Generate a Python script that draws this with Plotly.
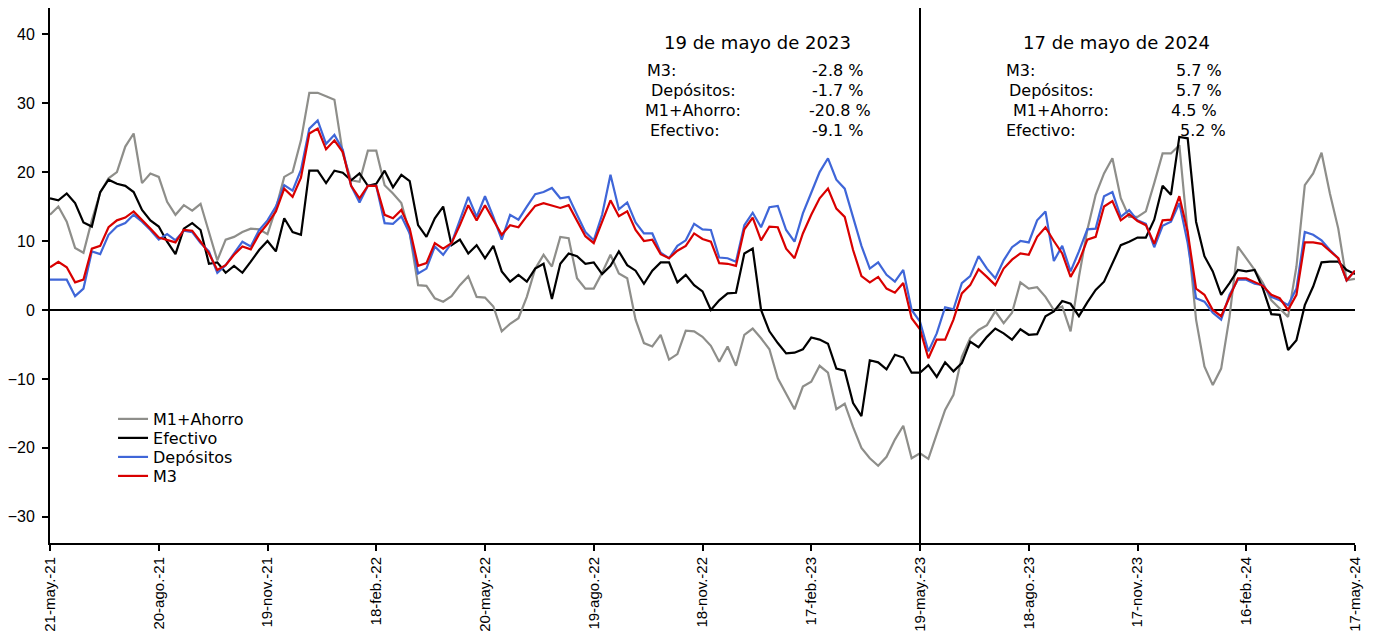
import pandas as pd
import plotly.graph_objects as go

# ---------------- data (weekly, % yoy) ----------------
start_date = "2021-05-21"
n_weeks = 157

m1_ahorro = [13.8, 15.0, 12.8, 9.0, 8.3, 13.0, 17.0, 19.1, 20.0, 23.7, 25.6, 18.4, 19.8, 19.3, 15.7, 13.8,
             15.2, 14.4, 15.4, 11.3, 7.2, 10.2, 10.6, 11.3, 11.8, 11.7, 11.0, 14.7, 19.3, 20.0, 24.6, 31.5,
             31.5, 31.0, 30.5, 22.7, 18.8, 18.6, 23.1, 23.1, 18.1, 16.9, 15.5, 11.1, 3.6, 3.5, 1.7, 1.2,
             2.0, 3.6, 4.9, 1.9, 1.8, 0.5, -3.1, -2.0, -1.2, 1.9, 6.0, 8.0, 6.3, 10.6, 10.4, 4.6,
             3.1, 3.1, 5.4, 8.0, 5.3, 4.6, -1.4, -4.8, -5.3, -3.6, -7.2, -6.4, -3.0, -3.1, -3.9, -5.2,
             -7.5, -5.3, -8.1, -3.6, -2.7, -4.1, -5.7, -9.9, -12.1, -14.4, -11.1, -10.4, -8.1, -9.1, -14.4, -13.6,
             -17.0, -20.0, -21.5, -22.6, -21.3, -18.8, -16.8, -21.5, -20.8, -21.6, -18.0, -14.5, -12.3, -6.8, -4.1, -2.9,
             -2.2, -0.2, -1.9, -0.4, 4.0, 3.1, 3.3, 1.9, 0.0, 0.5, -3.1, 4.8, 11.6, 16.7, 19.8, 22.0,
             16.2, 13.5, 13.5, 14.3, 18.4, 22.7, 22.7, 23.9, 11.1, -1.4, -8.2, -10.9, -8.5, -1.0, 9.2, 7.5,
             5.8, 3.9, 1.4, 0.2, -1.0, 6.3, 18.1, 19.8, 22.8, 16.9, 11.8, 4.3, 4.5]

efectivo = [16.2, 15.9, 16.9, 15.5, 12.7, 12.1, 17.1, 18.9, 18.3, 18.0, 17.1, 14.5, 13.0, 12.1, 9.9, 8.1,
            11.8, 12.6, 11.6, 6.7, 6.9, 5.4, 6.4, 5.4, 7.0, 8.7, 10.0, 8.5, 13.3, 11.3, 10.9, 20.2,
            20.2, 18.4, 20.2, 19.9, 18.8, 19.8, 18.0, 18.3, 20.2, 17.8, 19.6, 18.7, 12.3, 10.6, 13.3, 15.0,
            9.4, 10.2, 8.2, 9.4, 7.5, 9.3, 5.6, 4.1, 5.1, 4.1, 6.0, 6.7, 1.6, 6.7, 8.2, 7.8,
            6.7, 6.9, 5.2, 6.4, 8.5, 6.5, 5.7, 3.8, 5.7, 6.9, 6.9, 4.0, 5.1, 3.6, 2.7, 0.0,
            1.4, 2.4, 2.5, 8.2, 8.9, 0.0, -3.1, -4.8, -6.3, -6.2, -5.7, -4.0, -4.3, -4.9, -8.5, -8.8,
            -13.5, -15.4, -7.3, -7.6, -8.6, -6.5, -6.9, -9.1, -9.1, -8.0, -9.7, -7.6, -8.9, -7.7, -4.6, -5.4,
            -3.9, -2.7, -3.4, -4.3, -2.8, -3.6, -3.5, -0.9, -0.2, 1.3, 0.9, -0.9, 1.1, 2.9, 4.1, 6.8,
            9.4, 9.9, 10.5, 10.5, 13.1, 18.0, 16.7, 25.1, 24.9, 12.8, 7.8, 5.6, 2.2, 3.9, 5.8, 5.6,
            5.8, 3.1, -0.6, -0.7, -5.8, -4.4, 0.7, 3.4, 6.9, 7.0, 7.0, 5.8, 5.2]

depositos = [4.4, 4.4, 4.4, 2.0, 3.1, 8.5, 8.1, 10.9, 12.1, 12.6, 13.8, 12.8, 11.6, 10.2, 11.0, 10.1,
             11.5, 11.3, 9.7, 8.5, 5.4, 6.5, 8.2, 9.9, 9.2, 11.6, 13.0, 15.0, 18.1, 17.3, 20.3, 26.3,
             27.5, 24.1, 25.4, 23.2, 18.0, 15.6, 18.0, 18.0, 12.6, 12.5, 13.6, 11.1, 5.3, 6.0, 9.2, 8.0,
             9.7, 13.0, 16.4, 13.5, 16.5, 13.5, 10.2, 13.8, 13.1, 15.0, 16.8, 17.1, 17.7, 16.2, 16.4, 13.8,
             11.3, 10.1, 13.8, 19.6, 14.6, 15.6, 12.7, 11.1, 11.1, 8.3, 7.5, 9.3, 10.1, 12.5, 11.7, 11.6,
             7.6, 7.5, 7.0, 12.3, 14.1, 12.0, 14.9, 15.1, 11.6, 9.9, 14.0, 17.0, 20.0, 22.0, 18.9, 17.6,
             13.5, 9.3, 6.0, 6.9, 5.1, 4.1, 5.8, 0.0, -1.7, -6.0, -3.4, 0.4, 0.1, 3.9, 4.9, 7.8,
             6.0, 4.6, 7.2, 9.1, 10.0, 9.8, 13.0, 14.3, 7.1, 9.3, 5.6, 8.5, 11.7, 11.8, 16.5, 17.1,
             13.5, 14.5, 13.0, 12.5, 9.1, 12.2, 12.8, 15.5, 9.7, 1.7, 1.2, -0.4, -1.4, 2.2, 4.4, 4.4,
             3.8, 3.6, 1.9, 1.4, 0.7, 3.1, 11.3, 10.9, 10.1, 8.7, 7.5, 4.3, 5.7]

m3 = [6.2, 7.0, 6.2, 4.0, 4.4, 8.9, 9.3, 12.0, 13.0, 13.4, 14.3, 13.1, 11.8, 10.5, 10.2, 9.8,
      11.6, 11.5, 9.9, 8.2, 5.8, 6.5, 8.0, 9.2, 8.8, 11.0, 12.5, 14.3, 17.6, 16.4, 19.2, 25.6,
      26.3, 23.3, 24.6, 22.9, 18.0, 16.2, 18.0, 18.0, 13.8, 13.3, 14.5, 11.8, 6.4, 6.8, 9.7, 8.9,
      9.7, 12.3, 15.2, 13.0, 15.2, 13.0, 10.9, 12.3, 12.0, 13.6, 15.1, 15.5, 15.2, 14.8, 15.2, 13.0,
      10.7, 9.7, 12.8, 15.9, 13.6, 14.3, 11.6, 10.0, 10.2, 8.1, 7.5, 8.6, 9.3, 11.1, 10.3, 9.9,
      6.8, 6.7, 6.4, 11.7, 13.4, 10.1, 12.1, 12.0, 8.9, 7.5, 11.1, 13.8, 16.2, 17.6, 14.7, 13.5,
      8.7, 4.9, 4.0, 4.8, 3.1, 2.5, 3.9, -1.2, -2.8, -7.0, -4.3, -4.3, -1.4, 2.4, 3.6, 5.9,
      4.8, 3.6, 6.0, 7.3, 8.2, 8.0, 10.6, 12.0, 10.0, 8.2, 4.8, 7.0, 10.2, 10.6, 15.0, 15.8,
      13.0, 13.9, 12.9, 12.3, 9.6, 13.0, 13.1, 16.5, 11.3, 3.1, 2.2, 0.0, -0.9, 1.9, 4.6, 4.6,
      4.0, 3.5, 2.2, 1.7, 0.0, 2.2, 9.8, 9.8, 9.6, 8.5, 7.5, 4.3, 5.7]

tick_dates = ["2021-05-21", "2021-08-20", "2021-11-19", "2022-02-18", "2022-05-20", "2022-08-19",
              "2022-11-18", "2023-02-17", "2023-05-19", "2023-08-18", "2023-11-17", "2024-02-16",
              "2024-05-17"]
tick_labels = ["21-may.-21", "20-ago.-21", "19-nov.-21", "18-feb.-22", "20-may.-22", "19-ago.-22",
               "18-nov.-22", "17-feb.-23", "19-may.-23", "18-ago.-23", "17-nov.-23", "16-feb.-24",
               "17-may.-24"]
y_ticks = [-30, -20, -10, 0, 10, 20, 30, 40]

marker_date = "2023-05-19"
box1_title = "19 de mayo de 2023"
box2_title = "17 de mayo de 2024"
box_names = ["M3:", "Depósitos:", "M1+Ahorro:", "Efectivo:"]
box1_values = ["-2.8 %", "-1.7 %", "-20.8 %", "-9.1 %"]
box2_values = ["5.7 %", "5.7 %", "4.5 %", "5.2 %"]

# ---------------- figure ----------------
dates = pd.date_range(start=start_date, periods=n_weeks, freq="7D")
FONT = "DejaVu Sans, Arial, sans-serif"
TICKFONT = "Liberation Sans"

series = [
    ("M1+Ahorro", m1_ahorro, "#8e8e8a", "legend"),
    ("Efectivo", efectivo, "#000000", "legend2"),
    ("Depósitos", depositos, "#3f66d8", "legend3"),
    ("M3", m3, "#d90000", "legend4"),
]
legend_rows_y = [0.2318, 0.1963, 0.1607, 0.1252]
legend_x = 0.0483

fig = go.Figure()
for name, vals, col, lg in series:
    fig.add_trace(go.Scatter(x=dates, y=vals, mode="lines", name=name, legend=lg,
                             line=dict(color=col, width=2.2)))

# vertical reference line
fig.add_shape(type="line", xref="x", yref="paper", x0=marker_date, x1=marker_date,
              y0=0, y1=1, line=dict(color="black", width=2))

# annotation boxes
row_y = [0.8841, 0.8467, 0.8093, 0.7701]
b1_lab_x = [0.4559, 0.4590, 0.4544, 0.4582]
b1_val_x = [0.6253, 0.6253, 0.6307, 0.6253]
b2_lab_x = [0.7310, 0.7333, 0.7364, 0.7310]
b2_val_x = [0.8996, 0.8996, 0.8958, 0.9027]

anns = [
    dict(text=box1_title, x=0.5425, y=0.9364, xanchor="center", yanchor="middle",
         font=dict(size=18, color="black", family=FONT)),
    dict(text=box2_title, x=0.8169, y=0.9364, xanchor="center", yanchor="middle",
         font=dict(size=18, color="black", family=FONT)),
]
for i in range(4):
    anns.append(dict(text=box_names[i], x=b1_lab_x[i], y=row_y[i], xanchor="left", yanchor="middle",
                     font=dict(size=16, color="black", family=FONT)))
    anns.append(dict(text=box1_values[i], x=b1_val_x[i], y=row_y[i], xanchor="right", yanchor="middle",
                     font=dict(size=16, color="black", family=FONT)))
    anns.append(dict(text=box_names[i], x=b2_lab_x[i], y=row_y[i], xanchor="left", yanchor="middle",
                     font=dict(size=16, color="black", family=FONT)))
    anns.append(dict(text=box2_values[i], x=b2_val_x[i], y=row_y[i], xanchor="right", yanchor="middle",
                     font=dict(size=16, color="black", family=FONT)))
for a in anns:
    a.update(xref="paper", yref="paper", showarrow=False)

def legend_box(yv):
    return dict(x=legend_x, y=yv, xanchor="left", yanchor="middle", bgcolor="rgba(0,0,0,0)",
                font=dict(size=16, family=FONT, color="black"), itemwidth=30, borderwidth=0)

fig.update_layout(
    width=1375, height=625,
    margin=dict(l=42, r=28, t=0, b=90),
    paper_bgcolor="white", plot_bgcolor="white",
    font=dict(family=FONT, size=14, color="black"),
    annotations=anns,
    showlegend=True,
    legend=legend_box(legend_rows_y[0]),
    legend2=legend_box(legend_rows_y[1]),
    legend3=legend_box(legend_rows_y[2]),
    legend4=legend_box(legend_rows_y[3]),
    xaxis=dict(range=[dates[0], dates[-1]], tickmode="array", tickvals=tick_dates,
               ticktext=tick_labels, tickangle=-90, ticks="outside", ticklen=6, tickwidth=1.5,
               tickcolor="black", showline=True, linecolor="black", linewidth=2,
               showgrid=False, zeroline=False, tickfont=dict(size=15, family=TICKFONT)),
    yaxis=dict(range=[-33.8, 43.8], tickmode="array", tickvals=y_ticks, ticks="outside",
               ticklen=6, tickwidth=1.5, tickcolor="black", showline=True, linecolor="black",
               linewidth=2, showgrid=False, zeroline=True, zerolinecolor="black",
               zerolinewidth=1.5, ticklabelstandoff=4, tickfont=dict(size=16, family=TICKFONT)),
)

fig.write_html("out.html")
